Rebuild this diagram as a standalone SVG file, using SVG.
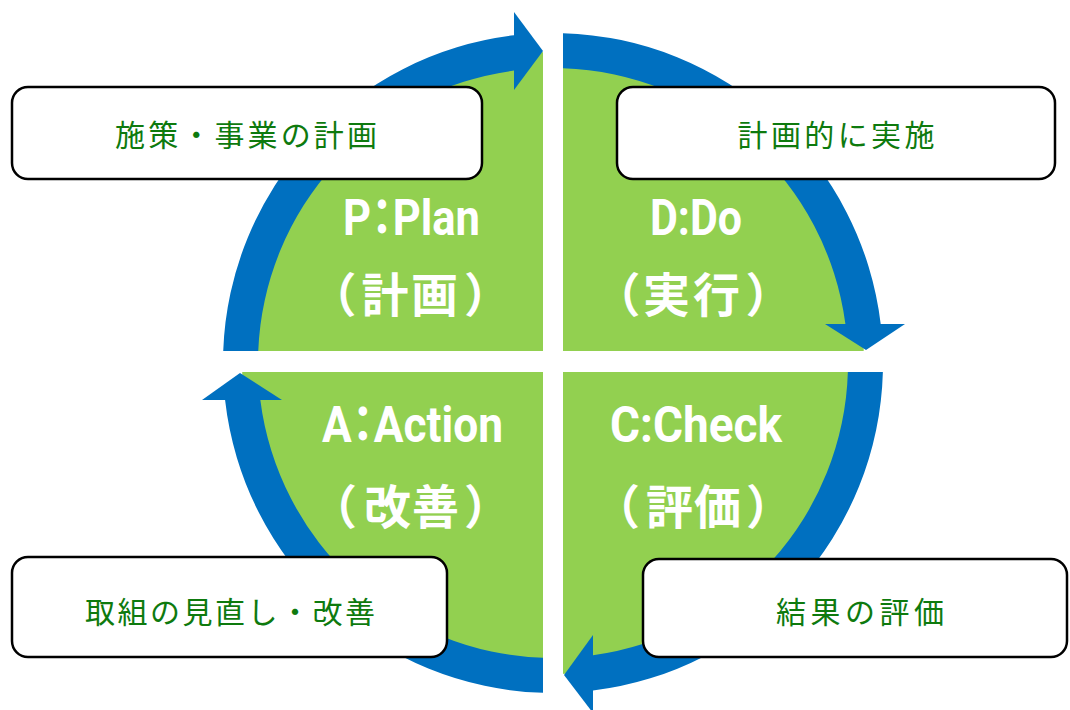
<svg xmlns="http://www.w3.org/2000/svg" width="1070" height="710" viewBox="0 0 1070 710">
  <style>
    .disc { fill: #92D050; }
    .gap { fill: #FFFFFF; }
    .ring { fill: #0070C0; }
    .box { fill: #FFFFFF; stroke: #000000; stroke-width: 2.5; }
    .boxtext { font-family: "Noto Sans CJK JP", "Noto Sans", sans-serif; font-size: 30px; fill: #0E7A0E; text-anchor: middle; }
    .lat { font-family: Roboto, "Noto Sans", "Noto Sans CJK JP", sans-serif; font-weight: bold; font-size: 50px; fill: #FFFFFF; text-anchor: middle; font-feature-settings: "halt" 1; }
    .jp { font-family: "Noto Sans CJK JP", sans-serif; font-weight: bold; font-size: 47px; fill: #FFFFFF; text-anchor: middle; }
  </style>
  <rect x="0" y="0" width="1070" height="710" fill="#FFFFFF"/>
  <g id="disc">
    <circle class="disc" cx="553" cy="363" r="311"/>
    <rect class="gap" x="543" y="0" width="20" height="710"/>
    <rect class="gap" x="0" y="351" width="1070" height="21"/>
  </g>
  <g id="connectors">
    <path class="ring" d="M223.22,351 A330,330 0 0,1 514,35.31 L514,70.59 A295,295 0 0,0 258.24,351 Z"/>
    <path class="ring" d="M514,12 L543,51 L514,90 Z"/>
    <path class="ring" d="M563,33.15 A330,330 0 0,1 880.69,324 L845.41,324 A295,295 0 0,0 563,68.17 Z"/>
    <path class="ring" d="M825,324 L905,324 L866,350 Z"/>
    <path class="ring" d="M882.88,372 A330,330 0 0,1 593,690.57 L593,655.28 A295,295 0 0,0 847.86,372 Z"/>
    <path class="ring" d="M593,635 L564,675 L593,713 Z"/>
    <path class="ring" d="M543,692.85 A330,330 0 0,1 225.08,400 L260.33,400 A295,295 0 0,0 543,657.83 Z"/>
    <path class="ring" d="M202,400 L282,400 L240,373 Z"/>
  </g>
  <g id="plan">
    <text class="lat" x="411.5" y="235" textLength="137" lengthAdjust="spacingAndGlyphs">P：Plan</text>
    <text class="jp" x="333,385,434.5,487.5" y="312">（計画）</text>
  </g>
  <g id="do">
    <text class="lat" x="696" y="235" textLength="92" lengthAdjust="spacingAndGlyphs">D:Do</text>
    <text class="jp" x="617,666.5,716.5,769" y="312">（実行）</text>
  </g>
  <g id="action">
    <text class="lat" x="412.5" y="442" textLength="181" lengthAdjust="spacingAndGlyphs">A：Action</text>
    <text class="jp" x="333.5,387.5,435.5,487.5" y="524">（改善）</text>
  </g>
  <g id="check">
    <text class="lat" x="696" y="442" textLength="172" lengthAdjust="spacingAndGlyphs">C:Check</text>
    <text class="jp" x="616.5,669.5,717.5,769.5" y="524">（評価）</text>
  </g>
  <g id="box-plan">
    <rect class="box" x="12" y="87" width="470" height="92" rx="16"/>
    <text class="boxtext" x="246" y="146" textLength="262" lengthAdjust="spacing">施策・事業の計画</text>
  </g>
  <g id="box-do">
    <rect class="box" x="617" y="87" width="438" height="92" rx="16"/>
    <text class="boxtext" x="836" y="146" textLength="197" lengthAdjust="spacing">計画的に実施</text>
  </g>
  <g id="box-action">
    <rect class="box" x="12" y="557" width="435" height="100" rx="16"/>
    <text class="boxtext" x="230" y="623" textLength="290" lengthAdjust="spacing">取組の見直し・改善</text>
  </g>
  <g id="box-check">
    <rect class="box" x="643" y="559" width="424" height="98" rx="16"/>
    <text class="boxtext" x="860" y="623" textLength="168" lengthAdjust="spacing">結果の評価</text>
  </g>
</svg>
